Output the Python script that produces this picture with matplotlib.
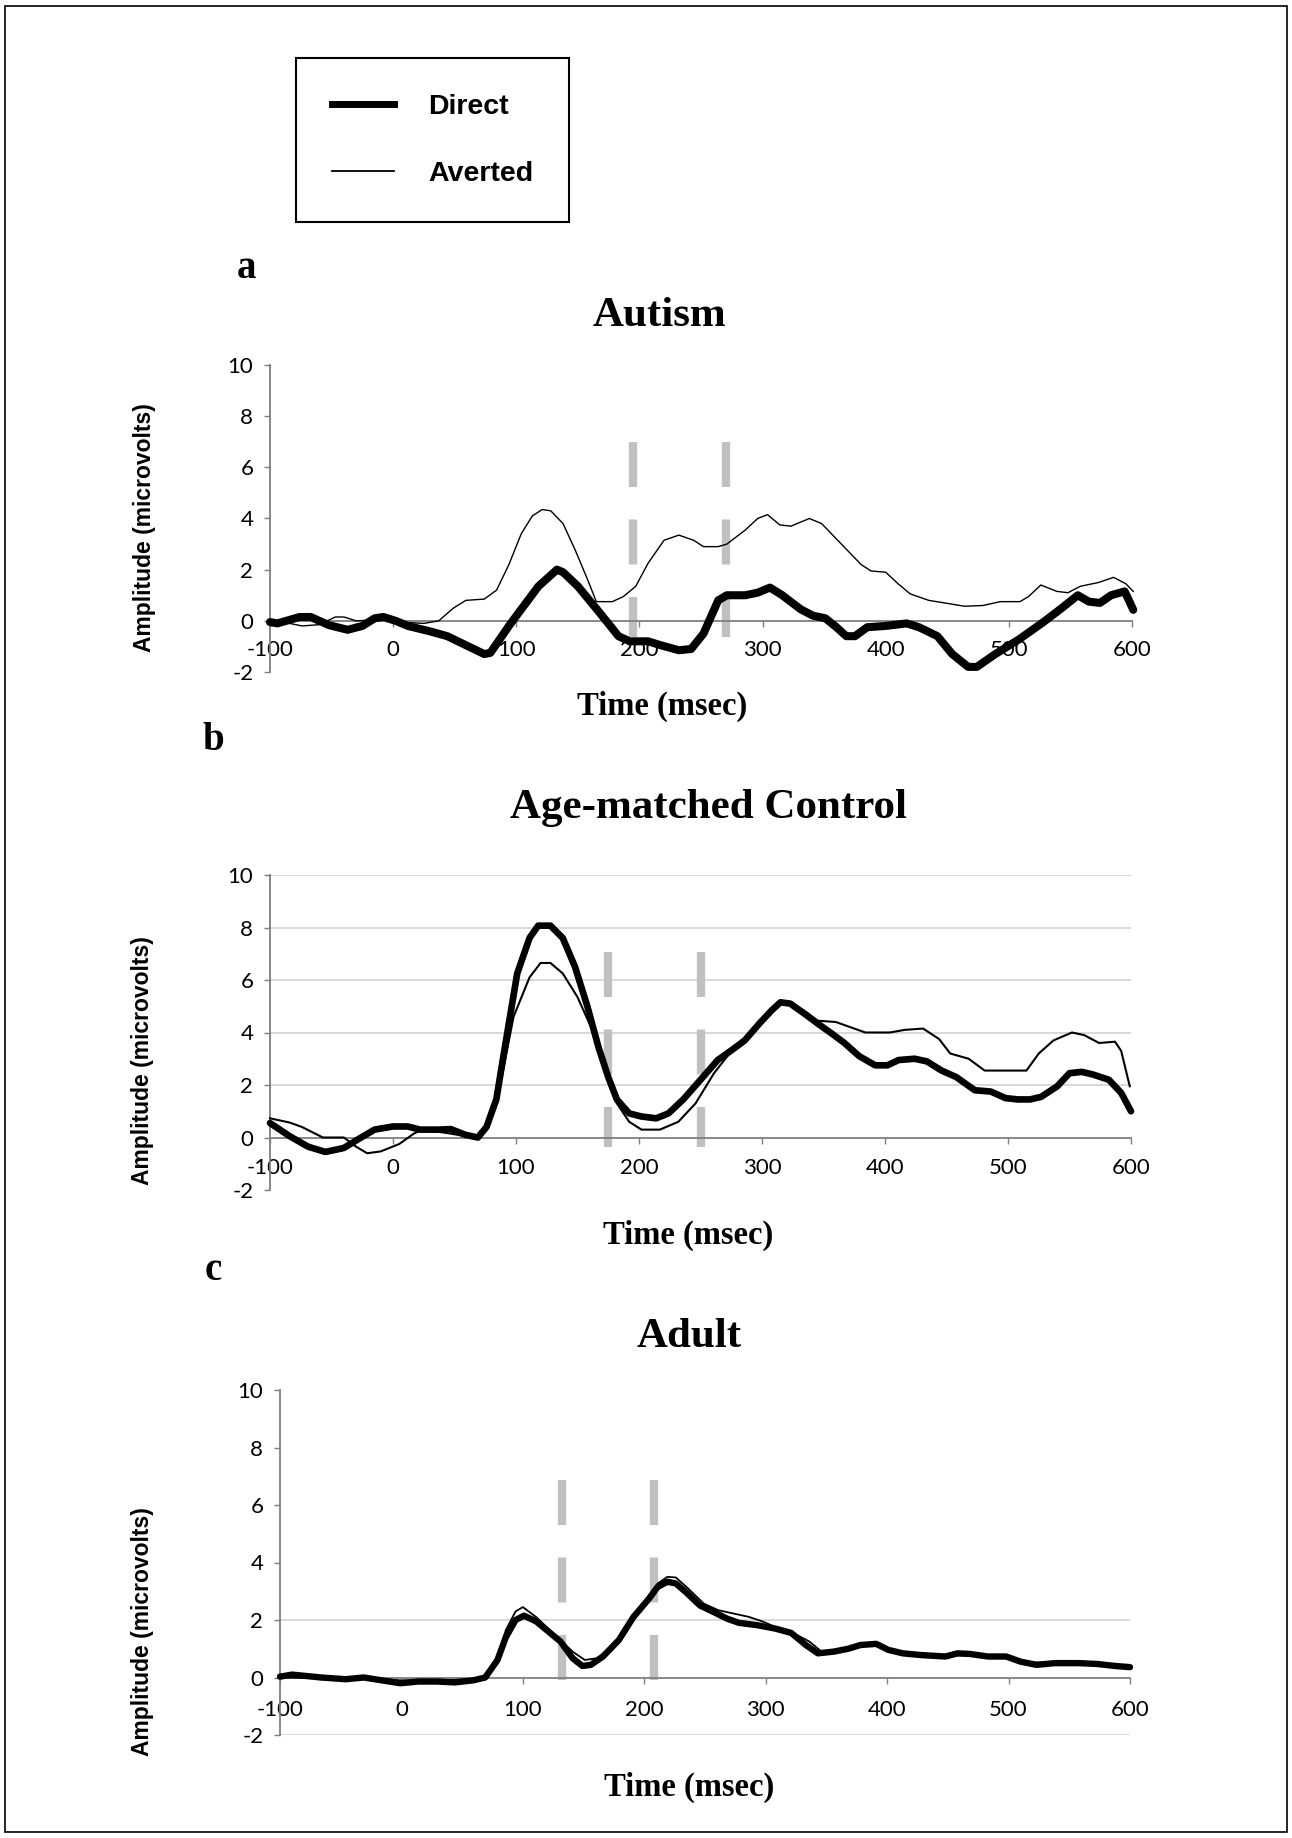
import matplotlib
matplotlib.use("Agg")
import matplotlib.pyplot as plt
from matplotlib.lines import Line2D
from matplotlib.patches import Rectangle

plt.rcParams['axes.unicode_minus'] = False
plt.rcParams['font.family'] = ['Lato', 'DejaVu Sans']

# ---- data (time in msec, amplitude in microvolts) ----
# a - Autism
a_direct_t = [-100, -94, -76, -67, -52, -37, -25, -15, -8, 2, 12, 29, 44, 59, 74, 79, 94, 104,
              118, 133, 138, 150, 168, 183, 192, 207, 217, 232, 242, 252, 264, 271, 286, 296,
              306, 316, 331, 341, 351, 360, 368, 375, 385, 400, 417, 427, 442, 454, 467, 474,
              489, 509, 528, 543, 556, 565, 574, 583, 594, 598, 601]
a_direct_v = [-0.05, -0.1, 0.15, 0.15, -0.17, -0.35, -0.2, 0.1, 0.15, 0.0, -0.2, -0.4, -0.6,
              -0.95, -1.3, -1.25, -0.2, 0.45, 1.35, 2.0, 1.9, 1.35, 0.3, -0.6, -0.8, -0.8,
              -0.95, -1.15, -1.1, -0.5, 0.8, 1.0, 1.0, 1.1, 1.3, 1.0, 0.45, 0.2, 0.1, -0.25,
              -0.6, -0.6, -0.25, -0.2, -0.1, -0.25, -0.6, -1.3, -1.8, -1.8, -1.3, -0.7,
              -0.05, 0.5, 1.0, 0.75, 0.7, 1.0, 1.15, 0.75, 0.43]
a_averted_t = [-100, -84, -74, -60, -47, -40, -30, -10, 5, 25, 37, 49, 59, 74, 84, 94, 104,
               113, 121, 128, 138, 148, 158, 165, 178, 187, 197, 207, 220, 232, 244, 252, 264,
               271, 286, 296, 304, 314, 323, 338, 348, 366, 380, 388, 400, 410, 420, 435, 454,
               464, 479, 493, 509, 516, 526, 539, 548, 558, 573, 585, 595, 601]
a_averted_v = [-0.1, -0.1, -0.2, -0.15, 0.15, 0.15, 0.0, 0.05, -0.05, -0.1, 0.0, 0.5, 0.8,
               0.85, 1.2, 2.2, 3.4, 4.1, 4.35, 4.3, 3.8, 2.75, 1.6, 0.75, 0.75, 0.95, 1.35,
               2.25, 3.15, 3.35, 3.15, 2.9, 2.9, 3.0, 3.55, 4.0, 4.15, 3.75, 3.7, 4.0, 3.8,
               2.9, 2.2, 1.95, 1.9, 1.45, 1.05, 0.8, 0.65, 0.57, 0.6, 0.75, 0.75, 0.95, 1.4,
               1.15, 1.1, 1.35, 1.5, 1.7, 1.45, 1.15]

# b - Age-matched Control
b_direct_t = [-100, -84, -69, -55, -40, -27, -15, 0, 12, 22, 37, 47, 59, 69, 76, 84, 91, 101,
              111, 118, 128, 138, 148, 158, 167, 175, 182, 192, 202, 214, 224, 236, 251, 264,
              276, 286, 298, 308, 315, 323, 335, 345, 357, 367, 379, 392, 402, 411, 424, 434,
              446, 458, 473, 486, 498, 508, 518, 527, 540, 550, 560, 569, 582, 592, 600]
b_direct_v = [0.55, 0.05, -0.35, -0.55, -0.4, -0.03, 0.3, 0.42, 0.42, 0.3, 0.3, 0.32, 0.1,
              0.0, 0.4, 1.45, 3.45, 6.25, 7.6, 8.07, 8.07, 7.6, 6.5, 5.0, 3.45, 2.3, 1.45,
              0.92, 0.8, 0.73, 0.92, 1.45, 2.25, 2.95, 3.35, 3.7, 4.35, 4.85, 5.15, 5.1, 4.7,
              4.35, 3.95, 3.6, 3.1, 2.75, 2.75, 2.95, 3.0, 2.9, 2.55, 2.3, 1.8, 1.75, 1.5,
              1.45, 1.45, 1.55, 1.95, 2.45, 2.5, 2.4, 2.2, 1.7, 1.0]
b_averted_t = [-100, -84, -74, -57, -40, -30, -21, -10, 5, 17, 24, 44, 59, 71, 79, 88, 98,
               111, 120, 128, 138, 150, 162, 172, 182, 192, 202, 217, 232, 246, 261, 276, 291,
               305, 315, 323, 335, 345, 360, 375, 384, 404, 416, 431, 444, 453, 468, 481, 493,
               515, 525, 537, 552, 562, 574, 587, 592, 599]
b_averted_v = [0.73, 0.57, 0.4, 0.0, 0.0, -0.35, -0.6, -0.53, -0.25, 0.15, 0.3, 0.17, 0.05,
               0.0, 0.55, 2.2, 4.6, 6.1, 6.65, 6.65, 6.25, 5.35, 4.1, 2.7, 1.3, 0.6, 0.3, 0.3,
               0.6, 1.3, 2.45, 3.35, 3.95, 4.7, 5.15, 5.15, 4.8, 4.45, 4.4, 4.15, 4.0, 4.0,
               4.1, 4.15, 3.75, 3.2, 3.0, 2.55, 2.55, 2.55, 3.2, 3.7, 4.0, 3.9, 3.6, 3.65,
               3.3, 1.95]

# c - Adult
c_direct_t = [-100, -90, -66, -46, -31, -16, -1, 14, 29, 44, 59, 69, 79, 86, 94, 101, 111,
              121, 131, 141, 149, 156, 166, 179, 191, 204, 211, 219, 226, 234, 246, 256, 268,
              278, 293, 308, 321, 333, 343, 356, 368, 378, 391, 401, 413, 428, 448, 458, 468,
              483, 498, 510, 523, 538, 558, 573, 588, 600]
c_direct_v = [0.03, 0.1, 0.0, -0.06, 0.0, -0.1, -0.2, -0.14, -0.14, -0.17, -0.1, 0.0, 0.6,
              1.4, 2.0, 2.15, 1.95, 1.6, 1.25, 0.67, 0.4, 0.44, 0.73, 1.3, 2.1, 2.75, 3.15,
              3.33, 3.27, 2.98, 2.5, 2.3, 2.05, 1.9, 1.82, 1.7, 1.55, 1.13, 0.84, 0.9, 1.0,
              1.13, 1.17, 0.96, 0.84, 0.78, 0.73, 0.84, 0.82, 0.73, 0.73, 0.55, 0.44, 0.5,
              0.5, 0.47, 0.4, 0.36]
c_averted_t = [-100, -66, -31, -1, 29, 59, 69, 79, 86, 94, 100, 111, 121, 131, 141, 151, 161,
               174, 186, 199, 211, 219, 226, 236, 249, 261, 273, 286, 298, 311, 323, 336, 346,
               358, 371, 383, 396, 406, 418, 438, 455, 470, 485, 503, 518, 533, 558, 578, 600]
c_averted_v = [0.0, -0.02, 0.0, -0.1, -0.1, -0.06, 0.0, 0.73, 1.65, 2.3, 2.45, 2.1, 1.7, 1.3,
               0.9, 0.61, 0.67, 1.07, 1.82, 2.57, 3.27, 3.5, 3.48, 3.1, 2.57, 2.34, 2.23,
               2.11, 1.94, 1.7, 1.54, 1.25, 0.9, 0.96, 1.07, 1.19, 1.1, 0.94, 0.78, 0.75,
               0.78, 0.75, 0.75, 0.67, 0.52, 0.52, 0.52, 0.47, 0.4]

# analysis window markers (msec) and their vertical extent (microvolts)
a_markers = [195, 270]
b_markers = [175, 250]
c_markers = [132, 208]
a_marker_span = (7.0, -0.65)
b_marker_span = (7.07, -0.35)
c_marker_span = (6.86, -0.15)

a_grid = []
b_grid = [2, 4, 6, 8, 10]
c_grid = [-2, 2]

x_ticks = [-100, 0, 100, 200, 300, 400, 500, 600]
y_ticks = [-2, 0, 2, 4, 6, 8, 10]

W, H = 1292, 1838
fig = plt.figure(figsize=(W / 100, H / 100), dpi=100)


def box(left, top, right, bottom):
    return [left / W, 1 - bottom / H, (right - left) / W, (bottom - top) / H]


def fx(x):
    return x / W


def fy(y):
    return 1 - y / H


serif = dict(family='Liberation Serif', weight='bold')
sans = dict(family='Liberation Sans', weight='bold')

panels = [
    (box(270, 365, 1132, 672), a_direct_t, a_direct_v, a_averted_t, a_averted_v,
     a_markers, a_marker_span, a_grid, 5.8, 1.0, 9.5),
    (box(270, 875, 1131, 1190), b_direct_t, b_direct_v, b_averted_t, b_averted_v,
     b_markers, b_marker_span, b_grid, 4.8, 1.5, 10.5),
    (box(280, 1390, 1130, 1735), c_direct_t, c_direct_v, c_averted_t, c_averted_v,
     c_markers, c_marker_span, c_grid, 4.6, 1.3, 12),
]

for rect, dt, dv, at, av, marks, span, grid, lw_d, lw_a, xpad in panels:
    ax = fig.add_axes(rect)
    ax.set_xlim(-100, 600)
    ax.set_ylim(-2, 10)
    for s in ['top', 'right']:
        ax.spines[s].set_visible(False)
    ax.spines['bottom'].set_position(('data', 0))
    ax.spines['bottom'].set_color('#7f7f7f')
    ax.spines['left'].set_color('#7f7f7f')
    ax.spines['bottom'].set_linewidth(1.3)
    ax.spines['left'].set_linewidth(1.3)
    ax.set_xticks(x_ticks)
    ax.set_yticks(y_ticks)
    ax.tick_params(axis='x', direction='out', length=4, width=1, color='#7f7f7f',
                   pad=xpad, labelsize=16)
    ax.tick_params(axis='y', direction='out', length=4, width=1, color='#7f7f7f',
                   pad=8, labelsize=16)
    for lv in grid:
        ax.axhline(lv, color='#d6d6d6', lw=1.3, zorder=0)
    for m in marks:
        ax.plot([m, m], [span[0], span[1]], color='#c0c0c0', lw=6,
                linestyle=(0, (5.4, 3.9)), dash_capstyle='butt', zorder=1)
    ax.plot(at, av, color='black', lw=lw_a, zorder=3, clip_on=False,
            solid_joinstyle='round')
    ax.plot(dt, dv, color='black', lw=lw_d, zorder=4, clip_on=False,
            solid_joinstyle='round', solid_capstyle='round')

# panel letters, titles and axis labels
for letter, (x, y) in zip(['a', 'b', 'c'], [(246, 268), (213, 740), (213, 1270)]):
    fig.text(fx(x), fy(y), letter, ha='center', va='center', fontsize=28, **serif)
for title, (x, y) in zip(['Autism', 'Age-matched Control', 'Adult'],
                         [(659, 316), (709, 808), (689, 1337)]):
    fig.text(fx(x), fy(y), title, ha='center', va='center', fontsize=31, **serif)
for (x, y) in [(662, 706), (688, 1235), (689, 1787)]:
    fig.text(fx(x), fy(y), 'Time (msec)', ha='center', va='center', fontsize=23.5, **serif)
for (x, y) in [(145, 528), (143, 1061), (143, 1632)]:
    fig.text(fx(x), fy(y), 'Amplitude (microvolts)', ha='center', va='center',
             rotation=90, fontsize=16.5, **sans)

# legend box
handles = [Line2D([], [], color='black', lw=5), Line2D([], [], color='black', lw=1.3)]
leg = fig.legend(handles, ['Direct', 'Averted'], loc='upper left',
                 bbox_to_anchor=(fx(296), fy(58)), bbox_transform=fig.transFigure,
                 borderaxespad=0, fancybox=False, edgecolor='black', framealpha=1,
                 prop=dict(family='Liberation Sans', weight='bold', size=20.5),
                 handlelength=2.2, handletextpad=1.2, labelspacing=1.45, borderpad=1.25)
leg.get_frame().set_linewidth(1.5)

# outer frame
fig.patches.append(Rectangle((fx(5), fy(1832)), (1287 - 5) / W, (1832 - 6) / H,
                             transform=fig.transFigure, fill=False, lw=1.2,
                             ec='black'))

fig.savefig('out.png', dpi=100)
